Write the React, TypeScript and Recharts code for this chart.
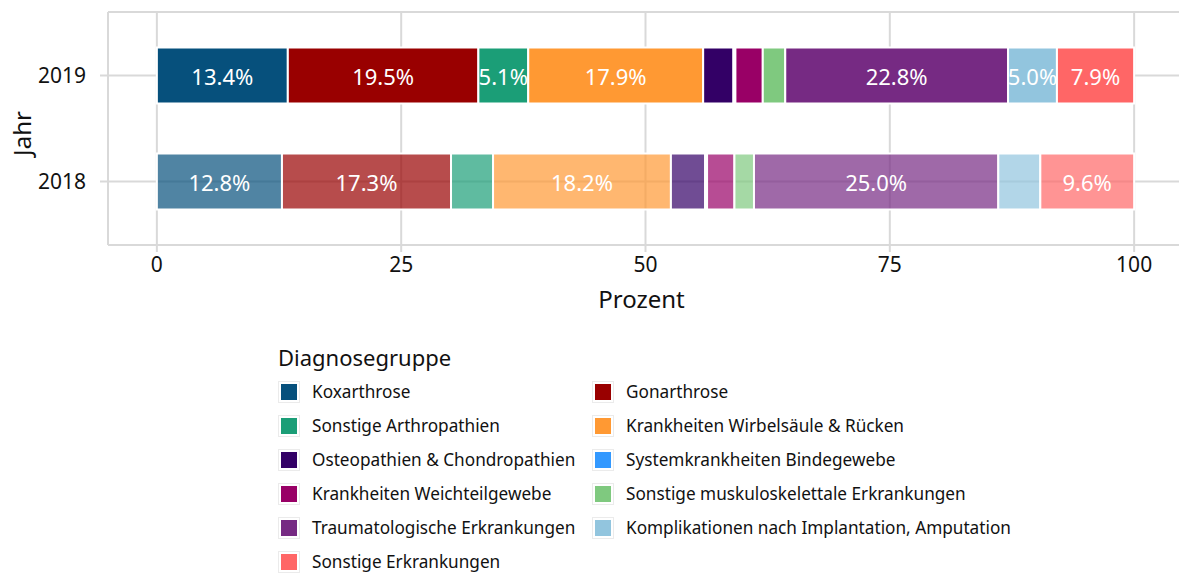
import React from 'react';
import {
  BarChart,
  Bar,
  XAxis,
  YAxis,
  CartesianGrid,
  LabelList,
  Cell,
} from 'recharts';

const years = ['2019', '2018'];
const groups = [
  'Koxarthrose',
  'Gonarthrose',
  'Sonstige Arthropathien',
  'Krankheiten Wirbelsäule & Rücken',
  'Osteopathien & Chondropathien',
  'Systemkrankheiten Bindegewebe',
  'Krankheiten Weichteilgewebe',
  'Sonstige muskuloskelettale Erkrankungen',
  'Traumatologische Erkrankungen',
  'Komplikationen nach Implantation, Amputation',
  'Sonstige Erkrankungen',
];
const groupColors = [
  '#06507c',
  '#990000',
  '#1b9e77',
  '#ff9933',
  '#330066',
  '#3399ff',
  '#990066',
  '#7fc97f',
  '#762a83',
  '#92c5de',
  '#ff6666',
];
const shares2019 = [13.4, 19.5, 5.1, 17.9, 3.1, 0.2, 2.8, 2.3, 22.8, 5.0, 7.9];
const shares2018 = [12.8, 17.3, 4.3, 18.2, 3.5, 0.2, 2.8, 2.0, 25.0, 4.3, 9.6];
const yearShares = [shares2019, shares2018];
const yearOpacity = [1, 0.7];
const xTicks = [0, 25, 50, 75, 100];
const xMinorTicks = [12.5, 37.5, 62.5, 87.5];

const FONT = '"Noto Sans", sans-serif';
const GRID = '#d9d9d9';

const data = years.map((year, i) => {
  const row: Record<string, any> = { year };
  groups.forEach((_, j) => {
    row['g' + j] = yearShares[i][j];
  });
  return row;
});

// only label segments of at least 5 %
const renderValue = (props: any) => {
  const { x, y, width, height, value } = props;
  if (value == null || value < 5) return null;
  return (
    <text
      x={Number(x) + Number(width) / 2}
      y={Number(y) + Number(height) / 2}
      textAnchor="middle"
      dominantBaseline="central"
      fill="#ffffff"
      fontSize={22}
      fontFamily={FONT}
    >
      {Number(value).toFixed(1)}%
    </text>
  );
};

function Legend() {
  return (
    <div style={{ position: 'absolute', left: 278, top: 346, color: '#111' }}>
      <div style={{ fontSize: 22, lineHeight: '22px' }}>Diagnosegruppe</div>
      <div
        style={{
          marginTop: 6.5,
          display: 'grid',
          gridTemplateColumns: '314px auto',
          gridAutoRows: '34px',
        }}
      >
        {groups.map((g, i) => (
          <div key={g} style={{ display: 'flex', alignItems: 'center' }}>
            <div
              style={{
                width: 22,
                height: 22,
                boxSizing: 'border-box',
                border: '1px solid #ebebeb',
                padding: 2,
                background: '#fff',
              }}
            >
              <div style={{ width: 16, height: 16, background: groupColors[i] }} />
            </div>
            <span style={{ marginLeft: 12, fontSize: 17.2, whiteSpace: 'nowrap' }}>{g}</span>
          </div>
        ))}
      </div>
    </div>
  );
}

export default function App() {
  return (
    <div
      style={{
        position: 'absolute',
        left: 0,
        top: 0,
        width: 1179,
        height: 573,
        overflow: 'hidden',
        background: '#fff',
        fontFamily: FONT,
      }}
    >
      <BarChart
        width={1200}
        height={320}
        data={data}
        layout="vertical"
        margin={{ top: 12, right: 17, bottom: 0, left: 0 }}
        style={{ fontFamily: FONT }}
      >
        <XAxis xAxisId="minor" type="number" domain={[-5, 105]} ticks={xMinorTicks} hide />
        <CartesianGrid xAxisId="minor" horizontal={false} stroke="#eeeeee" strokeWidth={1.3} />
        <CartesianGrid stroke={GRID} strokeWidth={2} />
        <XAxis
          type="number"
          domain={[-5, 105]}
          ticks={xTicks}
          allowDataOverflow
          axisLine={false}
          tickLine={{ stroke: GRID, strokeWidth: 2 }}
          tickSize={7}
          tickMargin={5}
          height={75}
          tick={{ fill: '#111', fontSize: 21 }}
          label={({ viewBox }: any) => (
            <text
              x={viewBox.x + viewBox.width / 2 - 4}
              y={viewBox.y + 53}
              textAnchor="middle"
              dominantBaseline="central"
              fontSize={24}
              fill="#111"
              fontFamily={FONT}
            >
              Prozent
            </text>
          )}
        />
        <YAxis
          type="category"
          dataKey="year"
          width={108}
          padding={{ top: 10.5, bottom: 10.5 }}
          axisLine={false}
          tickLine={{ stroke: GRID, strokeWidth: 2 }}
          tickSize={8}
          tickMargin={14}
          tick={{ fill: '#111', fontSize: 21 }}
          label={({ viewBox }: any) => {
            const cx = viewBox.x + 21;
            const cy = viewBox.y + viewBox.height / 2 + 5;
            return (
              <text
                x={cx}
                y={cy}
                transform={`rotate(-90 ${cx} ${cy})`}
                textAnchor="middle"
                dominantBaseline="central"
                fontSize={24}
                fill="#111"
                fontFamily={FONT}
              >
                Jahr
              </text>
            );
          }}
        />
        {groups.map((g, j) => (
          <Bar
            key={g}
            dataKey={'g' + j}
            name={g}
            stackId="a"
            fill={groupColors[j]}
            stroke="#ffffff"
            strokeWidth={2}
            barSize={56}
            isAnimationActive={false}
          >
            {data.map((_, i) => (
              <Cell key={i} fill={groupColors[j]} fillOpacity={yearOpacity[i]} />
            ))}
            <LabelList dataKey={'g' + j} content={renderValue} />
          </Bar>
        ))}
      </BarChart>
      <Legend />
    </div>
  );
}
